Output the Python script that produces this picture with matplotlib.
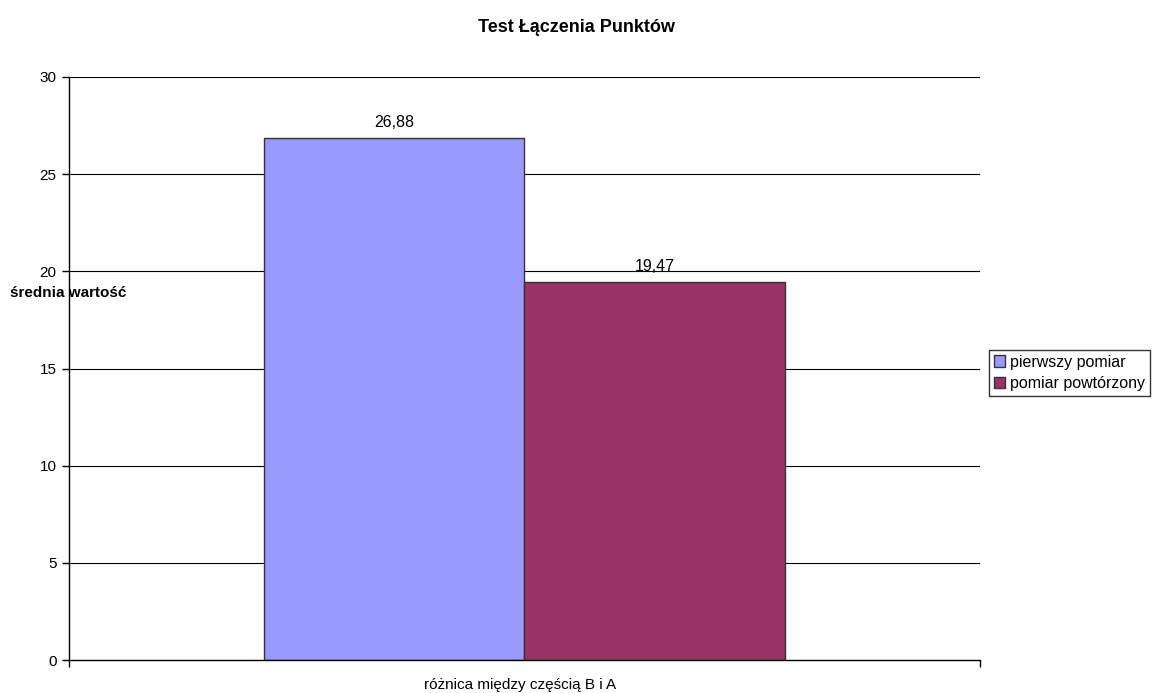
import matplotlib.pyplot as plt

plt.rcParams["font.family"] = ["Liberation Sans", "DejaVu Sans"]

category = "różnica między częścią B i A"
series = ["pierwszy pomiar", "pomiar powtórzony"]
values = [26.88, 19.47]
colors = ["#9999FF", "#993366"]
yticks = [0, 5, 10, 15, 20, 25, 30]

fig = plt.figure(figsize=(11.53, 6.93), dpi=100)
ax = fig.add_axes([0.0598, 0.0476, 0.7902, 0.8413])

width = 0.286
offsets = [-width / 2, width / 2]
bars = []
for name, val, col, off in zip(series, values, colors, offsets):
    b = ax.bar(off, val, width=width, color=col, edgecolor="#333333",
               linewidth=1.0, label=name, zorder=3)
    bars.append(b)
    ax.text(off, val + 0.4, f"{val:.2f}".replace(".", ","), ha="center",
            va="bottom", fontsize=11.5, zorder=4)

ax.set_xlim(-0.5, 0.5)
ax.set_ylim(0, 30)
ax.set_yticks(yticks)
ax.set_yticklabels([str(t) for t in yticks], fontsize=11)
ax.set_xticks([-0.5, 0.5])
ax.set_xticklabels(["", ""])
ax.tick_params(axis="both", direction="out", length=5, width=1, color="black")
ax.tick_params(axis="y", pad=4)

for t in yticks[1:]:
    ax.axhline(t, color="black", linewidth=0.8, zorder=1)

for side in ("top", "right"):
    ax.spines[side].set_visible(False)
for side in ("left", "bottom"):
    ax.spines[side].set_linewidth(1.0)
    ax.spines[side].set_color("black")
    ax.spines[side].set_zorder(5)

fig.text(0.5, 0.961, "Test Łączenia Punktów", ha="center", va="center",
         fontsize=13, fontweight="bold")
fig.text(0.009, 0.577, "średnia wartość", ha="left", va="center",
         fontsize=11, fontweight="bold", zorder=10)
fig.text(0.451, 0.011, category, ha="center", va="center", fontsize=11)

leg = fig.legend(handles=[b[0] for b in bars], labels=series,
                 loc="center left", bbox_to_anchor=(0.858, 0.462),
                 fontsize=11.5, frameon=True, fancybox=False,
                 handlelength=0.7, handleheight=0.7, handletextpad=0.3,
                 borderpad=0.3, labelspacing=0.4, borderaxespad=0)
leg.get_frame().set_edgecolor("black")
leg.get_frame().set_linewidth(1.0)

fig.savefig("out.png", dpi=100)
